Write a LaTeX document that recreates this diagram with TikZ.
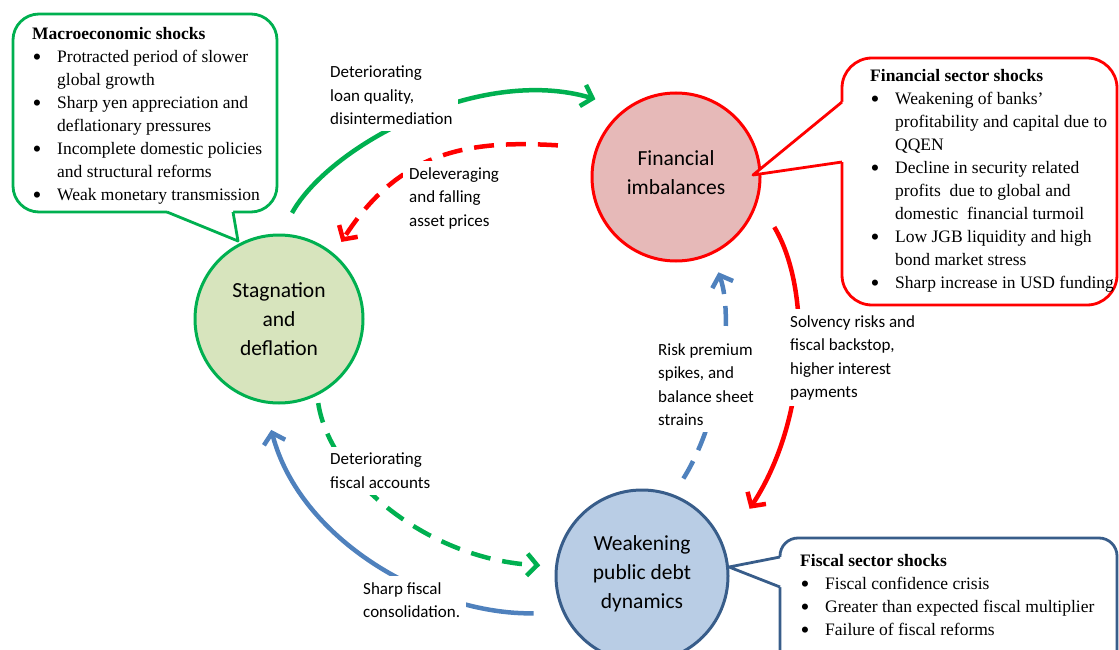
\documentclass[tikz,border=0pt]{standalone}
\usepackage{fontspec}
\setmainfont{Liberation Serif}
\newfontfamily\calib{Carlito}
\usetikzlibrary{arrows.meta,calc}

\definecolor{offgreen}{HTML}{00B050}
\definecolor{stagfill}{HTML}{D7E4BD}
\definecolor{finfill}{HTML}{E6B9B8}
\definecolor{weakfill}{HTML}{B9CDE5}
\definecolor{navyline}{HTML}{385D8A}
\definecolor{bluelink}{HTML}{4F81BD}

\newcommand{\blt}{\makebox[25pt][l]{\hspace{0.5pt}\raisebox{-3pt}{\scalebox{1.45}{\textbullet}}}}
\newcommand{\cnt}{\hspace*{25pt}}

\begin{document}
\begin{tikzpicture}[x=1pt, y=-1pt,
    font=\fontsize{17.5}{23}\selectfont,
    hub/.style={circle, inner sep=0pt, minimum size=#1, align=center, line width=3pt,
                font=\calib\fontsize{21.5}{29}\selectfont},
    shock/.style={draw=#1, fill=white, line width=2.8pt, anchor=north west,
                  inner sep=0pt, outer sep=0pt},
    shocktxt/.style={anchor=north west, inner sep=0pt, align=left},
    lbl/.style={anchor=north west, align=left, fill=white, inner sep=6pt,
                font=\calib\fontsize{17}{23.5}\selectfont},
    link/.style={line width=4.5pt, -{Straight Barb[length=10pt,width=22pt]}},
    dashlink/.style={link, dash pattern=on 20pt off 12pt},
]
\useasboundingbox (0,0) rectangle (1119,650);
\clip (0,0) rectangle (1119,650);

% ---------- the three states ----------
\node[hub=168pt, draw=offgreen, fill=stagfill] (stag) at (279,319) {Stagnation\\and\\deflation};
\node[hub=168pt, draw=red, fill=finfill] (fin) at (676,177) {Financial\\imbalances\\[-21pt]};
\node[hub=172pt, draw=navyline, fill=weakfill] (weak) at (642,576) {Weakening\\public debt\\dynamics\\[-22pt]};

% ---------- shock callouts ----------
\node[shock=offgreen, rounded corners=26pt, minimum width=264pt, minimum height=198pt] (macrobox) at (13,14) {};
\fill[white] (167,212) -- (238,241) -- (233,212) -- (233,208) -- (167,208) -- cycle;
\draw[offgreen, line width=2.8pt, line join=round] (167,212) -- (238,241) -- (233,212);
\node[shocktxt] (macrotxt) at (32,27) {\textbf{Macroeconomic shocks}\\
  \blt Protracted period of slower\\
  \cnt global growth\\
  \blt Sharp yen appreciation and\\
  \cnt deflationary pressures\\
  \blt Incomplete domestic policies\\
  \cnt and structural reforms\\
  \blt Weak monetary transmission};

\node[shock=red, rounded corners=30pt, minimum width=275pt, minimum height=247pt] (finbox) at (842,58) {};
\fill[white] (842,102) -- (753,175) -- (842,162) -- (846,162) -- (846,102) -- cycle;
\draw[red, line width=2.8pt, line join=round] (842,102) -- (753,175) -- (842,162);
\node[shocktxt] (fintxt) at (870,69) {\textbf{Financial sector shocks}\\
  \blt Weakening of banks’\\
  \cnt profitability and capital due to\\
  \cnt QQEN\\
  \blt Decline in security related\\
  \cnt profits\ \ due to global and\\
  \cnt domestic\ \ financial turmoil\\
  \blt Low JGB liquidity and high\\
  \cnt bond market stress\\
  \blt Sharp increase in USD funding};

\node[shock=navyline, rounded corners=18pt, minimum width=337pt, minimum height=130pt] (fiscbox) at (780,538) {};
\fill[white] (780,557) -- (729,567) -- (780,587) -- (784,587) -- (784,557) -- cycle;
\draw[navyline, line width=2.8pt, line join=round] (780,557) -- (729,567) -- (780,587);
\node[shocktxt] (fisctxt) at (800,554) {\textbf{Fiscal sector shocks}\\
  \blt Fiscal confidence crisis\\
  \blt Greater than expected fiscal multiplier\\
  \blt Failure of fiscal reforms};

% ---------- feedback loops ----------
\draw[link, offgreen] ($(stag.center)!1.25!(stag.83)$) .. controls (330,145) and (480,65) .. ($(fin.center)!1.31!(fin.136)$);
\draw[dashlink, red] ($(fin.center)!1.43!(fin.165)$) .. controls (470,140) and (400,150) .. ($(stag.center)!1.16!(stag.51)$);
\draw[dashlink, offgreen] ($(stag.center)!1.085!(stag.-65)$) .. controls (330,480) and (430,560) .. ($(weak.center)!1.17!(weak.174)$);
\draw[dashlink, bluelink] ($(weak.center)!1.21!(weak.67)$) .. controls (720,420) and (735,320) .. ($(fin.center)!1.22!(fin.-66)$);
\draw[link, red] ($(fin.center)!1.29!(fin.-27)$) .. controls (812,290) and (808,420) .. ($(weak.center)!1.45!(weak.32)$);
\draw[link, bluelink] ($(weak.center)!1.31!(weak.199)$) .. controls (430,615) and (300,540) .. ($(stag.center)!1.30!(stag.266)$);

% labels (white boxes break the loops)
\node[lbl] (loanlbl) at (324,60) {Deteriorating\\loan quality,\\disintermediation};
\node[lbl] (delevlbl) at (403,161) {Deleveraging\\and falling\\asset prices};
\node[lbl] (risklbl) at (652,337) {Risk premium\\spikes, and\\balance sheet\\strains};
\node[lbl] (solvlbl) at (784,309) {Solvency risks and\\fiscal backstop,\\higher interest\\payments};
\node[lbl] (fisclbl) at (324,447) {Deteriorating\\fiscal accounts};
\node[lbl] (conslbl) at (357,576) {Sharp fiscal\\consolidation.};

\end{tikzpicture}
\end{document}
